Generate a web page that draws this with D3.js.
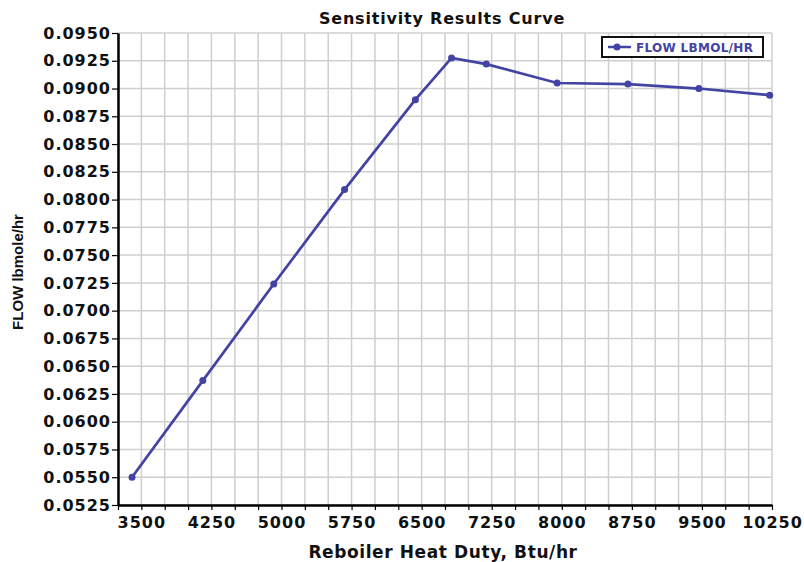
<!DOCTYPE html>
<html>
<head>
<meta charset="utf-8">
<script src="https://cdn.jsdelivr.net/npm/d3@7"></script>
<style>
  body { margin: 0; background: #fff; }
  text { font-family: "DejaVu Sans", Verdana, sans-serif; font-weight: bold; }
</style>
</head>
<body>
<div id="container"></div>
<script>
// data
const duty = [3400, 4158, 4917, 5675, 6433, 6820, 7192, 7950, 8708, 9467, 10225];
const flow = [0.0550, 0.0637, 0.0724, 0.0809, 0.0890, 0.09275, 0.0922, 0.0905, 0.0904, 0.0900, 0.0894];
const xTicks = d3.range(3250, 10251, 250);
const xLabels = [3500, 4250, 5000, 5750, 6500, 7250, 8000, 8750, 9500, 10250];
const yTicks = d3.range(0.0525, 0.09501, 0.0025);

const width = 804,
    height = 562,
    margin = { top: 33, bottom: 57, left: 118, right: 32 };
const lineColor = "#4343a3";

const svg = d3.select("#container")
    .append("svg")
    .attr("width", width)
    .attr("height", height)

const xScale = d3.scaleLinear()
    .domain([3250, 10250])
    .range([margin.left, width - margin.right])
const yScale = d3.scaleLinear()
    .domain([0.0525, 0.095])
    .range([height - margin.bottom, margin.top])

/* gridlines */
svg.append("g").selectAll("line.vg")
    .data(xTicks)
    .join("line")
    .attr("class", "vg")
    .attr("x1", d => xScale(d)).attr("x2", d => xScale(d))
    .attr("y1", margin.top).attr("y2", height - margin.bottom)
    .attr("stroke", "#cfcfcf").attr("stroke-width", 1.5)
svg.append("g").selectAll("line.hg")
    .data(yTicks)
    .join("line")
    .attr("class", "hg")
    .attr("y1", d => yScale(d)).attr("y2", d => yScale(d))
    .attr("x1", margin.left).attr("x2", width - margin.right)
    .attr("stroke", "#cfcfcf").attr("stroke-width", 1.5)

/* axes */
const xAxis = d3.axisBottom(xScale)
    .tickValues(xTicks)
    .tickSize(5)
    .tickSizeOuter(0)
    .tickFormat(d => xLabels.includes(d) ? d : "")
const xAxisGroup = svg.append("g")
    .attr("transform", `translate(0,${height - margin.bottom})`)
    .call(xAxis)
xAxisGroup.select(".domain").attr("stroke-width", 2.5)
xAxisGroup.selectAll("line").attr("stroke-width", 1.2)
xAxisGroup.selectAll("text")
    .attr("font-size", 16).attr("letter-spacing", 1)
    .attr("dy", "0.95em").attr("fill", "#111")

const yAxis = d3.axisLeft(yScale)
    .tickValues(yTicks)
    .tickSize(6)
    .tickSizeOuter(0)
    .tickFormat(d3.format(".4f"))
const yAxisGroup = svg.append("g")
    .attr("transform", `translate(${margin.left},0)`)
    .call(yAxis)
yAxisGroup.select(".domain").attr("stroke-width", 2.5)
yAxisGroup.selectAll("line").attr("stroke-width", 1.2)
yAxisGroup.selectAll("text")
    .attr("font-size", 16).attr("letter-spacing", 1)
    .attr("x", -7).attr("fill", "#111")

/* line + markers */
const pts = duty.map((d, i) => [d, flow[i]])
const lineGen = d3.line()
    .x(d => xScale(d[0]))
    .y(d => yScale(d[1]))
svg.append("path")
    .datum(pts)
    .attr("d", lineGen)
    .attr("fill", "none")
    .attr("stroke", lineColor)
    .attr("stroke-width", 2.7)
svg.selectAll("circle.pt")
    .data(pts)
    .join("circle")
    .attr("class", "pt")
    .attr("cx", d => xScale(d[0]))
    .attr("cy", d => yScale(d[1]))
    .attr("r", 3.5)
    .attr("fill", lineColor)

/* titles */
svg.append("text")
    .attr("x", 442).attr("y", 24)
    .attr("text-anchor", "middle")
    .attr("font-size", 16).attr("letter-spacing", 0.8)
    .attr("fill", "#111")
    .text("Sensitivity Results Curve")
svg.append("text")
    .attr("x", 443).attr("y", 558)
    .attr("text-anchor", "middle")
    .attr("font-size", 17).attr("letter-spacing", 0.6)
    .attr("fill", "#111")
    .text("Reboiler Heat Duty, Btu/hr")
svg.append("text")
    .attr("transform", "translate(23,272) rotate(-90)")
    .attr("text-anchor", "middle")
    .attr("font-size", 15)
    .attr("fill", "#111")
    .style("font-family", "'Liberation Sans', Arial, sans-serif")
    .text("FLOW lbmole/hr")

/* legend */
const legend = svg.append("g").attr("transform", "translate(602,37)")
legend.append("rect")
    .attr("width", 161).attr("height", 20)
    .attr("fill", "#fff").attr("stroke", "#111").attr("stroke-width", 2)
legend.append("line")
    .attr("x1", 6).attr("x2", 29).attr("y1", 10).attr("y2", 10)
    .attr("stroke", lineColor).attr("stroke-width", 2.5)
legend.append("circle")
    .attr("cx", 15).attr("cy", 10).attr("r", 3.5).attr("fill", lineColor)
legend.append("text")
    .attr("x", 34).attr("y", 14.5)
    .attr("font-size", 12).attr("letter-spacing", 0.3)
    .attr("fill", lineColor)
    .text("FLOW LBMOL/HR")
</script>
</body>
</html>
